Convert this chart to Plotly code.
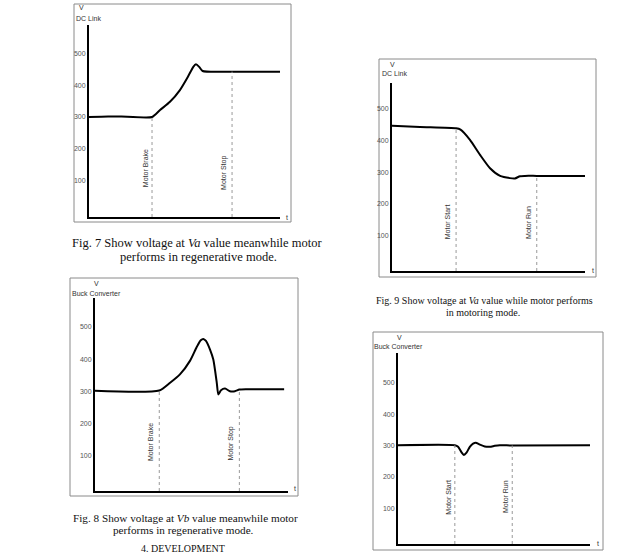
import plotly.graph_objects as go

W, H = 640, 555

# ---------------- data ----------------
y_ticks = [100, 200, 300, 400, 500]

fig7_t = [0, 10, 20, 33.0, 37.2, 42.4, 47.6, 51.8, 54.6, 56.0, 57.7, 59.5, 75, 100]
fig7_v = [300, 302, 301, 300, 322, 348, 385, 427, 458, 466, 458, 445, 443, 443]
fig7_events = ["Motor Brake", "Motor Stop"]
fig7_event_t = [33.0, 74.9]
fig7_event_v = [300, 443]

fig9_t = [0, 14.5, 33.2, 35.5, 40.4, 45.6, 50.8, 56.0, 61.1, 63.7, 66.3, 68.9, 75, 100]
fig9_v = [445, 441, 437, 433, 401, 354, 312, 288, 281, 280, 287, 288, 288, 288]
fig9_events = ["Motor Start", "Motor Run"]
fig9_event_t = [33.2, 75.0]
fig9_event_v = [437, 288]

fig8_t = [0, 33.3, 38.9, 44.0, 49.2, 52.7, 54.8, 56.1, 57.5, 59.6, 61.3, 63.1, 63.9,
          65.3, 67.4, 69.9, 72.5, 74.8, 78.6, 98]
fig8_v = [302, 303, 327, 353, 395, 438, 459, 463, 457, 430, 399, 327, 291,
          304, 309, 301, 301, 306, 307, 307]
fig8_events = ["Motor Brake", "Motor Stop"]
fig8_event_t = [33.3, 74.8]
fig8_event_v = [303, 306]

fig10_t = [0, 29.6, 31.3, 33.1, 34.3, 35.7, 37.4, 39.1, 40.5, 42.6, 45.2, 47.8, 50.4, 53.0, 59.5, 100]
fig10_v = [301, 301, 296, 278, 270, 277, 296, 306, 309, 303, 297, 296, 299, 301, 300, 301]
fig10_events = ["Motor Start", "Motor Run"]
fig10_event_t = [29.6, 59.5]
fig10_event_v = [301, 300]

# ---------------- layout config (pixels) ----------------
panels = [
    dict(t=fig7_t, v=fig7_v, ev=fig7_events, evt=fig7_event_t, evv=fig7_event_v,
         ax=(89, 280), ay=(217, 25), yr=(-15, 590), frame=(74, 4, 291, 222),
         unit="DC Link", vpos=(81, 8), upos=(88, 19), tpos=(287, 217),
         lab_y=[139, 124], lab_dx=[-7, -8]),
    dict(t=fig9_t, v=fig9_v, ev=fig9_events, evt=fig9_event_t, evv=fig9_event_v,
         ax=(392, 585), ay=(271, 83), yr=(-10, 579), frame=(379, 59, 596, 277),
         unit="DC Link", vpos=(392, 64), upos=(394, 74), tpos=(593, 270),
         lab_y=[143, 143], lab_dx=[-9, -9]),
    dict(t=fig8_t, v=fig8_v, ev=fig8_events, evt=fig8_event_t, evv=fig8_event_v,
         ax=(95, 288), ay=(491, 298), yr=(-8.5, 590), frame=(70, 278, 298, 496),
         unit="Buck Converter", vpos=(96, 283), upos=(96, 293), tpos=(295, 488),
         lab_y=[144, 140], lab_dx=[-8, -8]),
    dict(t=fig10_t, v=fig10_v, ev=fig10_events, evt=fig10_event_t, evv=fig10_event_v,
         ax=(398, 590), ay=(544, 353), yr=(-15, 596), frame=(373, 332, 603, 550),
         unit="Buck Converter", vpos=(399, 337), upos=(398, 346), tpos=(598, 543),
         lab_y=[136, 136], lab_dx=[-6, -6]),
]

def px(x):
    return x / W

def py(y):
    return 1 - y / H

fig = go.Figure()
shapes = []
annotations = []
layout = dict(width=W, height=H, margin=dict(l=0, r=0, t=0, b=0),
              paper_bgcolor="white", plot_bgcolor="rgba(0,0,0,0)", showlegend=False)

small = dict(family="Liberation Sans, Arial", size=7, color="#333")

for i, p in enumerate(panels, start=1):
    xa = "x" if i == 1 else f"x{i}"
    ya = "y" if i == 1 else f"y{i}"
    xkey = "xaxis" if i == 1 else f"xaxis{i}"
    ykey = "yaxis" if i == 1 else f"yaxis{i}"
    fx0, fy0, fx1, fy1 = p["frame"]
    shapes.append(dict(type="rect", xref="paper", yref="paper",
                       x0=px(fx0), x1=px(fx1), y0=py(fy1), y1=py(fy0),
                       line=dict(color="#8a8a8a", width=1), layer="below"))
    layout[xkey] = dict(domain=[px(p["ax"][0]), px(p["ax"][1])], range=[0, 100],
                        anchor=ya, showline=True, linecolor="black", linewidth=2,
                        showgrid=False, zeroline=False, showticklabels=False, ticks="")
    layout[ykey] = dict(domain=[py(p["ay"][0]), py(p["ay"][1])], range=list(p["yr"]),
                        anchor=xa, showline=True, linecolor="black", linewidth=2,
                        showgrid=False, zeroline=False, ticks="",
                        tickvals=y_ticks, ticktext=[str(v) for v in y_ticks],
                        tickfont=dict(family="Liberation Sans, Arial", size=7, color="#555"),
                        ticklabelstandoff=0)
    fig.add_trace(go.Scatter(x=p["t"], y=p["v"], mode="lines", xaxis=xa, yaxis=ya,
                             line=dict(color="black", width=2, shape="spline", smoothing=0.6),
                             hoverinfo="skip"))
    for k, name in enumerate(p["ev"]):
        shapes.append(dict(type="line", xref=xa, yref=ya,
                           x0=p["evt"][k], x1=p["evt"][k],
                           y0=p["yr"][0], y1=p["evv"][k],
                           line=dict(color="#999", width=1, dash="dot")))
        annotations.append(dict(xref=xa, yref=ya, x=p["evt"][k], y=p["lab_y"][k],
                                text=name, textangle=-90, showarrow=False,
                                xanchor="center", yanchor="middle", xshift=p["lab_dx"][k],
                                font=small))
    annotations.append(dict(xref="paper", yref="paper", x=px(p["vpos"][0]), y=py(p["vpos"][1]),
                            text="V", showarrow=False, xanchor="center", yanchor="middle",
                            font=small))
    annotations.append(dict(xref="paper", yref="paper", x=px(p["upos"][0]), y=py(p["upos"][1]),
                            text=p["unit"], showarrow=False, xanchor="center", yanchor="middle",
                            font=small))
    annotations.append(dict(xref="paper", yref="paper", x=px(p["tpos"][0]), y=py(p["tpos"][1]),
                            text="t", showarrow=False, xanchor="center", yanchor="middle",
                            font=small))

captions = [
    ("Fig. 7 Show voltage at <i>Va</i> value meanwhile motor", 197, 243, 12.5),
    ("performs in regenerative mode.", 198, 257, 12.5),
    ("Fig. 9 Show voltage at <i>Va</i> value while motor performs", 484, 300, 10),
    ("in motoring mode.", 483, 312, 10),
    ("Fig. 8 Show voltage at <i>Vb</i> value meanwhile motor", 185, 518, 11.2),
    ("performs in regenerative mode.", 183, 530, 11.2),
    ("4. DEVELOPMENT", 183, 548, 10),
]
for text, cx, cy, fs in captions:
    annotations.append(dict(xref="paper", yref="paper", x=px(cx), y=py(cy), text=text,
                            showarrow=False, xanchor="center", yanchor="middle",
                            font=dict(family="Liberation Serif, Times New Roman", size=fs, color="#111")))

layout["shapes"] = shapes
layout["annotations"] = annotations
fig.update_layout(**layout)
fig.write_html("out.html")
